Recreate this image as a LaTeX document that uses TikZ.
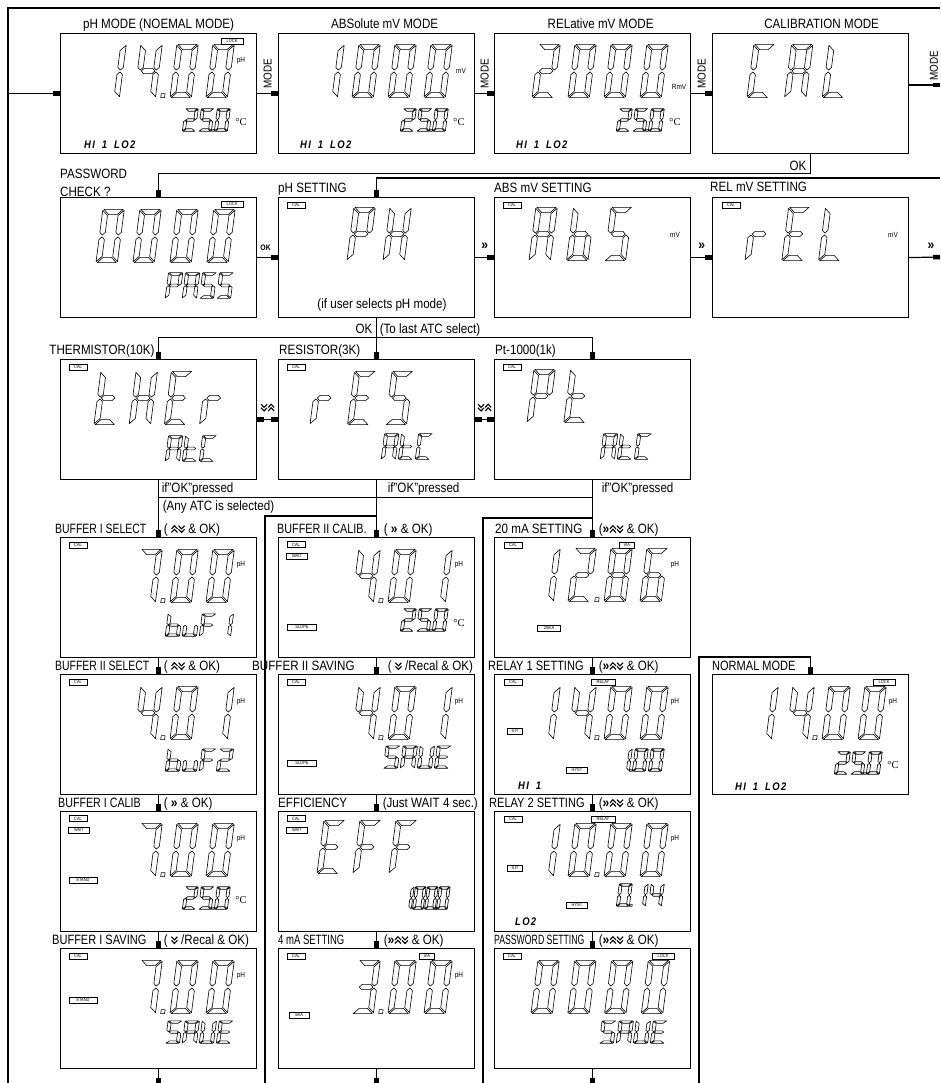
\documentclass[tikz,border=0pt]{standalone}
\usepackage{fontspec}
\setmainfont{Liberation Sans}[FakeStretch=0.86]
\newfontfamily\serifC{Liberation Serif}
\usetikzlibrary{calc,arrows.meta,positioning}

\makeatletter
% seven segment read-out
\newcount\lcd@i
\tikzset{lcd pitch/.store in=\lcd@pitch, lcd tv/.store in=\lcd@T, lcd th/.store in=\lcd@H,
  lcd pitch=2.25, lcd tv=0.18, lcd th=0.12}
\def\lcd@G{0.04}
\def\lcd@Gx{0.07}
% segments a..g of one digit cell (width 1, height 2)
\def\lcd@s@a{\path[lcdseg] (-\lcd@T+\lcd@Gx,2+\lcd@H) -- (1+\lcd@T-\lcd@Gx,2+\lcd@H)
  -- (1-\lcd@T-\lcd@Gx,2-\lcd@H) -- (\lcd@T+\lcd@Gx,2-\lcd@H) -- cycle;}
\def\lcd@s@d{\path[lcdseg] (-\lcd@T+\lcd@Gx,-\lcd@H) -- (1+\lcd@T-\lcd@Gx,-\lcd@H)
  -- (1-\lcd@T-\lcd@Gx,\lcd@H) -- (\lcd@T+\lcd@Gx,\lcd@H) -- cycle;}
\def\lcd@s@g{\path[lcdseg] (\lcd@Gx,1) -- (\lcd@T+\lcd@Gx,1+\lcd@H) -- (1-\lcd@T-\lcd@Gx,1+\lcd@H)
  -- (1-\lcd@Gx,1) -- (1-\lcd@T-\lcd@Gx,1-\lcd@H) -- (\lcd@T+\lcd@Gx,1-\lcd@H) -- cycle;}
\def\lcd@s@f{\path[lcdseg] (-\lcd@T,2+\lcd@H-\lcd@G) -- (\lcd@T,2-\lcd@H-\lcd@G) -- (\lcd@T,1+\lcd@H+\lcd@G)
  -- (0,1+\lcd@G) -- (-\lcd@T,1+\lcd@H+\lcd@G) -- cycle;}
\def\lcd@s@e{\path[lcdseg] (-\lcd@T,-\lcd@H+\lcd@G) -- (\lcd@T,\lcd@H+\lcd@G) -- (\lcd@T,1-\lcd@H-\lcd@G)
  -- (0,1-\lcd@G) -- (-\lcd@T,1-\lcd@H-\lcd@G) -- cycle;}
\def\lcd@s@b{\path[lcdseg] (1+\lcd@T,2+\lcd@H-\lcd@G) -- (1-\lcd@T,2-\lcd@H-\lcd@G) -- (1-\lcd@T,1+\lcd@H+\lcd@G)
  -- (1,1+\lcd@G) -- (1+\lcd@T,1+\lcd@H+\lcd@G) -- cycle;}
\def\lcd@s@c{\path[lcdseg] (1+\lcd@T,-\lcd@H+\lcd@G) -- (1-\lcd@T,\lcd@H+\lcd@G) -- (1-\lcd@T,1-\lcd@H-\lcd@G)
  -- (1,1-\lcd@G) -- (1+\lcd@T,1-\lcd@H-\lcd@G) -- cycle;}
\@namedef{lcd@c@0}{a,b,c,d,e,f}
\@namedef{lcd@c@1}{b,c}
\@namedef{lcd@c@2}{a,b,g,e,d}
\@namedef{lcd@c@3}{a,b,g,c,d}
\@namedef{lcd@c@4}{f,g,b,c}
\@namedef{lcd@c@5}{a,f,g,c,d}
\@namedef{lcd@c@6}{a,f,g,e,c,d}
\@namedef{lcd@c@7}{a,b,c}
\@namedef{lcd@c@8}{a,b,c,d,e,f,g}
\@namedef{lcd@c@9}{a,b,c,d,f,g}
\@namedef{lcd@c@A}{a,b,c,e,f,g}
\@namedef{lcd@c@b}{f,e,d,c,g}
\@namedef{lcd@c@C}{a,f,e,d}
\@namedef{lcd@c@E}{a,f,g,e,d}
\@namedef{lcd@c@F}{a,f,g,e}
\@namedef{lcd@c@H}{b,c,e,f,g}
\@namedef{lcd@c@L}{f,e,d}
\@namedef{lcd@c@P}{a,b,f,g,e}
\@namedef{lcd@c@r}{e,g}
\@namedef{lcd@c@S}{a,f,g,c,d}
\@namedef{lcd@c@t}{f,e,d,g}
\@namedef{lcd@c@u}{e,d,c}
\@namedef{lcd@c@U}{b,c,d,e,f}
\def\lcd@stop{\lcd@stop}
\def\lcd@char#1{%
  \ifx.#1%
    \path[lcdseg] ({\the\lcd@i*\lcd@pitch-(\lcd@pitch-1)/2-0.12},-\lcd@H) rectangle ++(0.24,0.17);%
  \else
    \ifx!#1\else
      \begin{scope}[shift={({\the\lcd@i*\lcd@pitch},0)}]
        \expandafter\let\expandafter\lcd@segs\csname lcd@c@#1\endcsname
        \foreach \s in \lcd@segs {\csname lcd@s@\s\endcsname}
      \end{scope}
    \fi
    \advance\lcd@i by 1\relax
  \fi}
\def\lcd@loop#1{\ifx\lcd@stop#1\else\lcd@char#1\expandafter\lcd@loop\fi}
\newcommand\lcd[3][]{%
  \begin{scope}[shift={#2}, lcdbig, #1]
    \lcd@i=0\relax
    \lcd@loop#3\lcd@stop
  \end{scope}}
\makeatother

\newcommand\lcdtag[5]{\node[tag, minimum width=#5pt] (#1) at ($(#2.north west)+(#3)$) {#4};}
\newcommand\lcdunit[4]{\node[unitlbl] (#1) at ($(#2.north west)+(#3)$) {#4};}
\newcommand\chrt{{\bfseries\fontsize{14}{14}\selectfont »}}
\newcommand\chup{\tikz[baseline=-0.5pt, x=1pt, y=1pt]{\draw[line width=1.1pt] (0,0) -- (3,3.2) -- (6,0) (0,3.6) -- (3,6.8) -- (6,3.6);}}
\newcommand\chdn{\tikz[baseline=-0.5pt, x=1pt, y=1pt]{\draw[line width=1.1pt] (0,6.8) -- (3,3.6) -- (6,6.8) (0,3.2) -- (3,0) -- (6,3.2);}}

\tikzset{
  lcdbox/.style={draw, line width=1.2pt, minimum width=196pt, minimum height=120pt, inner sep=0pt, anchor=north west},
  ttl/.style={inner sep=0pt, anchor=base west},
  tsx/.style={transform shape, xscale=#1},
  cond/.style={inner sep=0pt, anchor=base west},
  feed/.style={line width=1.2pt, -{Square[length=7pt,width=4.5pt]}},
  twoway/.style={line width=1.2pt, {Square[length=7pt,width=4.5pt]}-{Square[length=7pt,width=4.5pt]}},
  wire/.style={line width=1.2pt},
  frame/.style={line width=1.8pt},
  lcdseg/.style={draw, line width=0.6pt, line join=round},
  lcdbig/.style={x=16pt, y=24pt, xslant=0.13, lcd pitch=2.25, lcd tv=0.17, lcd th=0.11},
  lcdsmall/.style={x=10pt, y=10pt, lcd pitch=1.6, lcd tv=0.15, lcd th=0.13, lcdseg/.append style={line width=0.65pt}},
  lcdmid/.style={x=11pt, y=11.5pt, lcd pitch=1.55, lcd tv=0.15, lcd th=0.12},
  tag/.style={draw, line width=0.6pt, font=\fontsize{4.6}{5}\selectfont, inner xsep=0.8pt, inner ysep=0.3pt, minimum height=6pt},
  unitlbl/.style={font=\fontsize{7.5}{8}\selectfont, inner sep=0pt},
  degC/.style={font=\serifC\fontsize{10.5}{11}\selectfont, inner sep=0pt},
  hilo/.style={font=\bfseries\itshape\fontsize{11}{11}\selectfont\addfontfeature{LetterSpace=12}, inner sep=0pt, anchor=west},
  modelbl/.style={rotate=90, font=\fontsize{11.5}{12}\selectfont, inner sep=0pt},
  chev/.style={inner sep=0pt},
}

\begin{document}
\begin{tikzpicture}[x=1pt, y=-1pt, font=\fontsize{13.5}{16}\selectfont]
\useasboundingbox (0,0) rectangle (940,1083);

% row 1: measuring modes
\node[lcdbox] (pHmode) at (60,33) {};
\node[lcdbox] (absmode) at (278,33) {};
\node[lcdbox] (relmode) at (494,33) {};
\node[lcdbox] (calmode) at (712,33) {};
\node[ttl, anchor=base] (tph) at ($(pHmode.north)+(0,-4)$) {pH MODE (NOEMAL MODE)};
\node[ttl, anchor=base] (tabs) at ($(absmode.north)+(8,-4)$) {ABSolute mV MODE};
\node[ttl, anchor=base] (trel) at ($(relmode.north)+(8,-4)$) {RELative mV MODE};
\node[ttl, anchor=base] (tcal) at ($(calmode.north)+(11,-4)$) {CALIBRATION MODE};

\draw[feed] (pHmode.east) -- (absmode.west);
\draw[feed] (absmode.east) -- (relmode.west);
\draw[feed] (relmode.east) -- (calmode.west);
\node[modelbl] (m1) at ($(pHmode.east)!0.5!(absmode.west)+(0,-20)$) {MODE};
\node[modelbl] (m2) at ($(absmode.east)!0.5!(relmode.west)+(0,-20)$) {MODE};
\node[modelbl] (m3) at ($(relmode.east)!0.5!(calmode.west)+(0,-20)$) {MODE};
\coordinate (calout) at (940,85);
\draw[feed] (calmode.east |- calout) -- (calout);
\node[modelbl] (m4) at (934,66) {MODE};
\coordinate (tr) at (940,8);
\coordinate (tl) at (8,8);
\coordinate (bl) at (8,1083);
\draw[frame] (tr) -- (tl) -- (bl);
\draw[feed] (pHmode.west -| tl) -- (pHmode.west);

\lcdtag{lk1}{pHmode}{172,8}{LOCK}{22}
\lcd{($(pHmode.north west)+(41,62)$)}{14.00}
\lcdunit{u1}{pHmode}{181,28}{pH}
\lcd[lcdsmall]{($(pHmode.north west)+(124,97)$)}{25.0}
\node[degC] (dc1) at ($(pHmode.north west)+(181,89)$) {°C};
\node[hilo] (hl1) at ($(pHmode.north west)+(24,112)$) {HI\hspace{7pt}1\hspace{7pt}LO2};

\lcd{($(absmode.north west)+(41,62)$)}{1000}
\lcdunit{u2}{absmode}{183,38}{mV}
\lcd[lcdsmall]{($(absmode.north west)+(124,97)$)}{25.0}
\node[degC] (dc2) at ($(absmode.north west)+(181,89)$) {°C};
\node[hilo] (hl2) at ($(absmode.north west)+(22,112)$) {HI\hspace{7pt}1\hspace{7pt}LO2};

\lcd{($(relmode.north west)+(41,62)$)}{2000}
\lcdunit{u3}{relmode}{185,54}{RmV}
\lcd[lcdsmall]{($(relmode.north west)+(124,97)$)}{25.0}
\node[degC] (dc3) at ($(relmode.north west)+(181,89)$) {°C};
\node[hilo] (hl3) at ($(relmode.north west)+(22,112)$) {HI\hspace{7pt}1\hspace{7pt}LO2};

\lcd[lcd pitch=2.35]{($(calmode.north west)+(38,62)$)}{CAL}

% row 2: password and settings
\node[lcdbox] (passchk) at (60,197) {};
\node[lcdbox] (phset) at (278,197) {};
\node[lcdbox] (absset) at (494,197) {};
\node[lcdbox] (relset) at (712,197) {};
\node[ttl, anchor=south west, align=left, font=\fontsize{13.5}{18}\selectfont] (tpass) at (passchk.north west) {PASSWORD\\CHECK ?};
\node[ttl] (tphs) at ($(phset.north west)+(0,-4)$) {pH SETTING};
\node[ttl] (tabss) at ($(absset.north west)+(0,-4)$) {ABS mV SETTING};
\node[ttl] (trels) at ($(relset.north west)+(-2,-5)$) {REL mV SETTING};

\draw[feed] (calmode.south) -- ++(0,19) -| (passchk.north);
\node[ttl, anchor=base east] (okcal) at ($(calmode.south)+(-4,16)$) {OK};
\coordinate (rret) at (940,178);
\draw[feed] (rret) -| (phset.north);
\draw[feed] (passchk.east) -- (phset.west);
\node[font=\bfseries\fontsize{8}{8}\selectfont, inner sep=0pt] (okpass) at ($(passchk.east)!0.5!(phset.west)+(-2,-10)$) {OK};
\draw[feed] (phset.east) -- (absset.west);
\node[chev] (r1) at ($(phset.east)!0.5!(absset.west)+(0,-11)$) {\chrt};
\draw[feed] (absset.east) -- (relset.west);
\node[chev] (r2) at ($(absset.east)!0.5!(relset.west)+(0,-11)$) {\chrt};
\coordinate (rend) at (940,257);
\draw[feed] (relset.east) -- (rend);
\node[chev] (r3) at (931,246) {\chrt};

\lcdtag{lk2}{passchk}{172,7}{LOCK}{22}
\lcd[lcd pitch=2.31]{($(passchk.north west)+(39,63)$)}{0000}
\lcd[lcdmid]{($(passchk.north west)+(107,100)$)}{PASS}

\lcdtag{cl1}{phset}{18,8}{CAL}{18}
\lcd{($(phset.north west)+(72,61)$)}{PH}
\node[inner sep=0pt] (ifph) at ($(phset.north west)+(104,108)$) {(if user selects pH mode)};

\lcdtag{cl2}{absset}{18,8}{CAL}{18}
\lcd[lcd pitch=2.35]{($(absset.north west)+(38,61)$)}{AbS}
\lcdunit{u4}{absset}{181,38}{mV}

\lcdtag{cl3}{relset}{19,8}{CAL}{18}
\lcd[lcd pitch=2.3]{($(relset.north west)+(36,61)$)}{rEL}
\lcdunit{u5}{relset}{181,38}{mV}

% row 3: temperature sensor
\node[lcdbox] (therm) at (60,359) {};
\node[lcdbox] (resis) at (278,359) {};
\node[lcdbox] (ptk) at (494,359) {};
\node[ttl, anchor=base east] (tth) at ($(therm.north)+(-4,-5)$) {THERMISTOR(10K)};
\node[ttl] (tres) at ($(resis.north west)+(1,-5)$) {RESISTOR(3K)};
\node[ttl] (tpt) at ($(ptk.north west)+(1,-5)$) {Pt-1000(1k)};

\draw[feed] (phset.south) -- (resis.north);
\coordinate (atcbus) at ($(phset.south)+(0,19)$);
\draw[feed] (atcbus) -| (therm.north);
\draw[feed] (atcbus) -| (ptk.north);
\node[cond, anchor=base east] (okatc) at ($(phset.south)+(-4,15)$) {OK};
\node[cond] (lastatc) at ($(phset.south)+(3,15)$) {(To last ATC select)};
\draw[twoway] (therm.east) -- (resis.west);
\draw[twoway] (resis.east) -- (ptk.west);
\node[chev] (v1) at ($(therm.east)!0.5!(resis.west)+(0,-12)$) {\chdn\chup};
\node[chev] (v2) at ($(resis.east)!0.5!(ptk.west)+(0,-12)$) {\chdn\chup};

\lcdtag{cl4}{therm}{18,8}{CAL}{18}
\lcd[lcd pitch=2.2]{($(therm.north west)+(37,63)$)}{tHEr}
\lcd[lcdmid]{($(therm.north west)+(107,101)$)}{AtC}
\lcdtag{cl5}{resis}{18,8}{CAL}{18}
\lcd[lcd pitch=2.35]{($(resis.north west)+(35,63)$)}{rES}
\lcd[lcdmid]{($(resis.north west)+(105,99)$)}{AtC}
\lcdtag{cl6}{ptk}{18,8}{CAL}{18}
\lcd[lcd pitch=2.3]{($(ptk.north west)+(36,61)$)}{Pt}
\lcd[lcdmid]{($(ptk.north west)+(108,99)$)}{AtC}

% calibration columns
\node[lcdbox] (buf1sel) at (60,537) {};
\node[lcdbox] (buf2sel) at (60,674) {};
\node[lcdbox] (buf1cal) at (60,811) {};
\node[lcdbox] (buf1sav) at (60,948) {};
\node[lcdbox] (buf2cal) at (278,537) {};
\node[lcdbox] (buf2sav) at (278,674) {};
\node[lcdbox] (effic) at (278,811) {};
\node[lcdbox] (ma4set) at (278,948) {};
\node[lcdbox] (ma20set) at (494,537) {};
\node[lcdbox] (rly1set) at (494,674) {};
\node[lcdbox] (rly2set) at (494,811) {};
\node[lcdbox] (pwdset) at (494,948) {};
\node[lcdbox] (normmode) at (712,674) {};

\draw[feed] (therm.south) -- (buf1sel.north);
\draw[feed] (resis.south) -- (buf2cal.north);
\draw[feed] (ptk.south) -- (ma20set.north);
\draw[wire] ($(therm.south)+(0,17)$) -- ($(ptk.south)+(0,17)$);
\node[cond] (ifok1) at ($(therm.south)+(3,12)$) {if"OK"pressed};
\node[cond] (anyatc) at ($(therm.south)+(4,30)$) {(Any ATC is selected)};
\node[cond] (ifok2) at ($(resis.south)+(11,12)$) {if"OK"pressed};
\node[cond] (ifok3) at ($(ptk.south)+(9,12)$) {if"OK"pressed};

\coordinate (ret2) at (265,1083);
\coordinate (ret3) at (483,1083);
\coordinate (ret4) at (699,1083);
\draw[wire] (ret2) |- ($(buf2cal.north)+(0,-21)$);
\draw[wire] (ret3) |- ($(ma20set.north)+(0,-19)$);
\draw[feed] (ret4) |- ($(normmode.north)+(0,-17)$) -- (normmode.north);

\foreach \a/\b in {buf1sel/buf2sel, buf2sel/buf1cal, buf1cal/buf1sav,
                   buf2cal/buf2sav, buf2sav/effic, effic/ma4set,
                   ma20set/rly1set, rly1set/rly2set, rly2set/pwdset}
  \draw[feed] (\a.south) -- (\b.north);
\foreach \a in {buf1sav, ma4set, pwdset}
  \draw[feed] (\a.south) -- ++(0,16);

\node[ttl, tsx=0.9] (tb1) at ($(buf1sel.north west)+(-5,-4)$) {BUFFER I SELECT};
\node[cond] (kb1) at ($(buf1sel.north)+(5,-4)$) {(\ \chup\chdn\ \& OK)};
\node[ttl, tsx=0.9] (tb2) at ($(buf2sel.north west)+(-5,-4)$) {BUFFER II SELECT};
\node[cond] (kb2) at ($(buf2sel.north)+(5,-4)$) {(\ \chup\chdn\ \& OK)};
\node[ttl, tsx=0.92] (tb3) at ($(buf1cal.north west)+(-2,-4)$) {BUFFER I CALIB};
\node[cond] (kb3) at ($(buf1cal.north)+(5,-4)$) {(\ \chrt\ \& OK)};
\node[ttl, tsx=0.95] (tb4) at ($(buf1sav.north west)+(-8,-4)$) {BUFFER I SAVING};
\node[cond] (kb4) at ($(buf1sav.north)+(5,-4)$) {(\ \chdn\ /Recal \& OK)};

\node[ttl, tsx=0.93] (tb5) at ($(buf2cal.north west)+(-1,-4)$) {BUFFER II CALIB.};
\node[cond] (kb5) at ($(buf2cal.north)+(7,-4)$) {(\ \chrt\ \& OK)};
\node[ttl] (tb6) at ($(buf2sav.north west)+(-26,-4)$) {BUFFER II SAVING};
\node[cond] (kb6) at ($(buf2sav.north)+(11,-4)$) {(\ \chdn\ /Recal \& OK)};
\node[ttl] (tb7) at ($(effic.north west)+(0,-4)$) {EFFICIENCY};
\node[cond] (kb7) at ($(effic.north)+(6,-4)$) {(Just WAIT 4 sec.)};
\node[ttl, tsx=0.82] (tb8) at ($(ma4set.north west)+(0,-4)$) {4 mA SETTING};
\node[cond] (kb8) at ($(ma4set.north)+(7,-4)$) {(\chrt\chup\chdn\ \& OK)};

\node[ttl] (tb9) at ($(ma20set.north west)+(1,-4)$) {20 mA SETTING};
\node[cond] (kb9) at ($(ma20set.north)+(6,-4)$) {(\chrt\chup\chdn\ \& OK)};
\node[ttl, tsx=0.95] (tb10) at ($(rly1set.north west)+(-6,-4)$) {RELAY 1 SETTING};
\node[cond] (kb10) at ($(rly1set.north)+(6,-4)$) {(\chrt\chup\chdn\ \& OK)};
\node[ttl, tsx=0.95] (tb11) at ($(rly2set.north west)+(-5,-4)$) {RELAY 2 SETTING};
\node[cond] (kb11) at ($(rly2set.north)+(6,-4)$) {(\chrt\chup\chdn\ \& OK)};
\node[ttl, tsx=0.75] (tb12) at ($(pwdset.north west)+(0,-4)$) {PASSWORD SETTING};
\node[cond] (kb12) at ($(pwdset.north)+(6,-4)$) {(\chrt\chup\chdn\ \& OK)};
\node[ttl, tsx=0.95] (tnorm) at ($(normmode.north west)+(0,-4)$) {NORMAL MODE};

% buffer I
\lcdtag{cl7}{buf1sel}{18,8}{CAL}{18}
\lcd{($(buf1sel.north west)+(41,63)$)}{!7.00}
\lcdunit{u6}{buf1sel}{181,28}{pH}
\lcd[lcdmid, y=10pt]{($(buf1sel.north west)+(107,98)$)}{buF1}

\lcdtag{cl8}{buf2sel}{18,8}{CAL}{18}
\lcd{($(buf2sel.north west)+(41,63)$)}{!4.01}
\lcdunit{u7}{buf2sel}{181,28}{pH}
\lcd[lcdmid, y=10pt]{($(buf2sel.north west)+(107,96)$)}{buF2}

\lcdtag{cl9}{buf1cal}{18,7.5}{CAL}{18}
\lcdtag{wt1}{buf1cal}{19,19}{WAIT}{21}
\lcd{($(buf1cal.north west)+(41,63)$)}{!7.00}
\lcdunit{u8}{buf1cal}{181,28}{pH}
\lcdtag{st1}{buf1cal}{23,69}{STAND}{28}
\lcd[lcdsmall]{($(buf1cal.north west)+(124,97)$)}{25.0}
\node[degC] (dc4) at ($(buf1cal.north west)+(181,89)$) {°C};

\lcdtag{cl10}{buf1sav}{18,8}{CAL}{18}
\lcd{($(buf1sav.north west)+(41,63)$)}{!7.00}
\lcdunit{u9}{buf1sav}{181,28}{pH}
\lcdtag{st2}{buf1sav}{23,52}{STAND}{28}
\lcd[lcdmid, y=10pt]{($(buf1sav.north west)+(107,94)$)}{SAUE}

% buffer II
\lcdtag{cl11}{buf2cal}{18,7.5}{CAL}{18}
\lcdtag{wt2}{buf2cal}{19,19}{WAIT}{21}
\lcd{($(buf2cal.north west)+(41,63)$)}{!4.01}
\lcdunit{u10}{buf2cal}{181,28}{pH}
\lcdtag{sl1}{buf2cal}{24,90}{SLOPE}{29}
\lcd[lcdsmall]{($(buf2cal.north west)+(124,93)$)}{25.0}
\node[degC] (dc5) at ($(buf2cal.north west)+(181,86)$) {°C};

\lcdtag{cl12}{buf2sav}{18,8}{CAL}{18}
\lcd{($(buf2sav.north west)+(41,63)$)}{!4.01}
\lcdunit{u11}{buf2sav}{181,28}{pH}
\lcdtag{sl2}{buf2sav}{24,89}{SLOPE}{29}
\lcd[lcdmid, y=10pt]{($(buf2sav.north west)+(107,93)$)}{SAUE}

\lcdtag{cl13}{effic}{18,7.5}{CAL}{18}
\lcdtag{wt3}{effic}{19,19}{WAIT}{21}
\lcd{($(effic.north west)+(42,60)$)}{EFF}
\lcd[lcdsmall, x=8pt, lcd pitch=1.5, lcd tv=0.17]{($(effic.north west)+(124,97)$)}{100.0}

\lcdtag{cl14}{ma4set}{18,8}{CAL}{18}
\lcdtag{ma1}{ma4set}{149,8}{mA}{15}
\lcd{($(ma4set.north west)+(41,63)$)}{!3.00}
\lcdunit{u12}{ma4set}{181,28}{pH}
\lcdtag{fm1}{ma4set}{21,67}{4mA}{20}

% outputs
\lcdtag{cl15}{ma20set}{19,8}{CAL}{18}
\lcdtag{ma2}{ma20set}{133,8}{mA}{15}
\lcd{($(ma20set.north west)+(41,62)$)}{12.86}
\lcdunit{u13}{ma20set}{181,28}{pH}
\lcdtag{tm1}{ma20set}{55,91}{20mA}{23}

\lcdtag{cl16}{rly1set}{19,8}{CAL}{18}
\lcdtag{ry1}{rly1set}{109,8}{RELAY}{24}
\lcd{($(rly1set.north west)+(41,63)$)}{14.00}
\lcdunit{u14}{rly1set}{181,28}{pH}
\lcdtag{sp1}{rly1set}{21,57}{S.P.}{15}
\lcd[lcdsmall]{($(rly1set.north west)+(124,96)$)}{1.00}
\lcdtag{hy1}{rly1set}{83,96}{HYST}{21}
\node[hilo] (hl4) at ($(rly1set.north west)+(24,112)$) {HI\hspace{7pt}1};

\lcdtag{cl17}{rly2set}{19,8}{CAL}{18}
\lcdtag{ry2}{rly2set}{109,8}{RELAY}{24}
\lcd{($(rly2set.north west)+(41,63)$)}{10.00}
\lcdunit{u15}{rly2set}{181,28}{pH}
\lcdtag{sp2}{rly2set}{21,57}{S.P.}{15}
\lcd[lcdsmall]{($(rly2set.north west)+(124,94)$)}{0.14}
\lcdtag{hy2}{rly2set}{83,94}{HYST}{21}
\node[hilo] (hl5) at ($(rly2set.north west)+(21,111)$) {LO2};

\lcdtag{cl18}{pwdset}{18,8}{CAL}{18}
\lcdtag{lk3}{pwdset}{169,8}{LOCK}{22}
\lcd[lcd pitch=2.3]{($(pwdset.north west)+(40,63)$)}{0000}
\lcd[lcdmid, y=10pt]{($(pwdset.north west)+(107,94)$)}{SAUE}

\lcdtag{lk4}{normmode}{172,8}{LOCK}{22}
\lcd{($(normmode.north west)+(41,63)$)}{14.00}
\lcdunit{u16}{normmode}{181,28}{pH}
\lcd[lcdsmall]{($(normmode.north west)+(124,99)$)}{25.0}
\node[degC] (dc6) at ($(normmode.north west)+(181,91)$) {°C};
\node[hilo] (hl6) at ($(normmode.north west)+(23,113)$) {HI\hspace{7pt}1\hspace{7pt}LO2};
\end{tikzpicture}
\end{document}
